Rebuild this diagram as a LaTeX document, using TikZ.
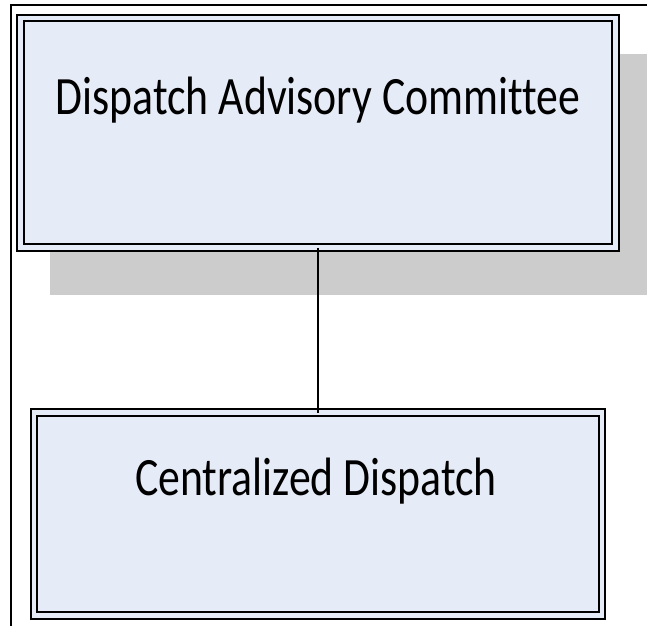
\documentclass[tikz,border=0pt]{standalone}
\usepackage{fontspec}
\setmainfont{Carlito}[Ligatures=NoCommon]
\usepackage{tikz}
\usetikzlibrary{positioning,backgrounds}
\definecolor{boxfill}{RGB}{230,236,247}
\definecolor{shadowgray}{RGB}{204,204,204}

\tikzset{
  orgbox/.style={draw=black,line width=2.2pt,double=boxfill,
    double distance=4.4pt,fill=boxfill,inner sep=0pt,outer sep=0pt},
  orglabel/.style={anchor=base,inner sep=0pt,
    font=\fontsize{54}{60}\selectfont},
}

\begin{document}
\begin{tikzpicture}[x=1pt,y=-1pt]
  \useasboundingbox (0,0) rectangle (647,626);
  % frame round the chart
  \draw[line width=2pt] (11,626) -- (11,5) -- (647,5);
  % shadow behind the committee box
  \fill[shadowgray] (50,54) rectangle (647,295);
  \node[orgbox,minimum width=595pt,minimum height=229.5pt]
    (committee) at (318,132.75) {};
  \node[orgbox,minimum width=568pt,minimum height=203pt]
    (dispatch) at (318,514) {};
  \node[orglabel] (committeetext) at (318,114)
    {\scalebox{0.81}[1]{Dispatch Advisory Committee}};
  \node[orglabel] (dispatchtext) at (316,495)
    {\scalebox{0.81}[1]{Centralized Dispatch}};
  \draw[line width=2pt] (committee.south) -- (dispatch.north);
\end{tikzpicture}
\end{document}
